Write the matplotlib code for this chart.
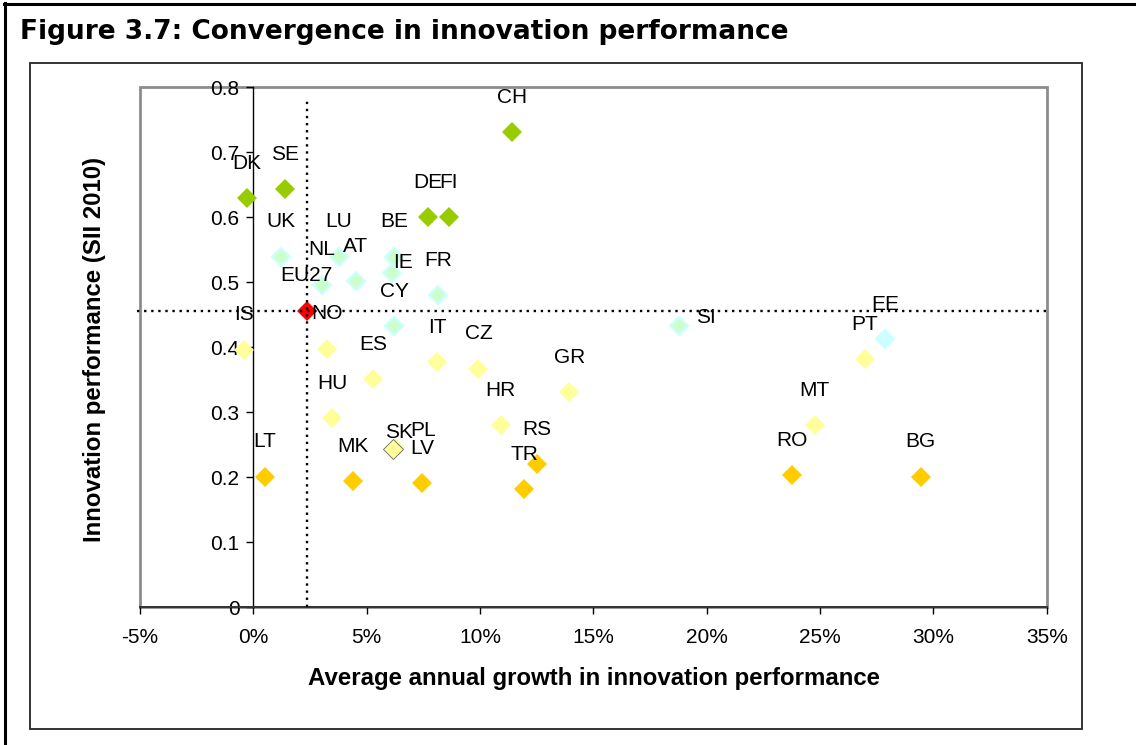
import matplotlib
matplotlib.use("Agg")
import matplotlib.pyplot as plt
from matplotlib.patches import Rectangle
from matplotlib.lines import Line2D

# ---- data ----
countries = ["CH", "DK", "SE", "DE", "FI",
             "UK", "LU", "BE", "IE", "NL", "AT", "FR", "CY", "SI", "EE",
             "EU27",
             "IS", "NO", "ES", "HU", "IT", "CZ", "GR", "HR", "PL", "SK", "PT", "MT",
             "LT", "MK", "LV", "RS", "TR", "RO", "BG"]
groups = ["leader"] * 5 + ["follower"] * 10 + ["eu"] + ["moderate"] * 12 + ["modest"] * 7
growth = [11.43, -0.29, 1.40, 7.69, 8.63,
          1.22, 3.78, 6.21, 6.10, 3.01, 4.52, 8.16, 6.21, 18.79, 27.87,
          2.36,
          -0.39, 3.24, 5.27, 3.49, 8.12, 9.93, 13.94, 10.91, 6.25, 6.18, 26.98, 24.77,
          0.52, 4.38, 7.46, 12.50, 11.94, 23.75, 29.44]
sii = [0.731, 0.629, 0.643, 0.600, 0.600,
       0.539, 0.539, 0.539, 0.515, 0.496, 0.502, 0.480, 0.432, 0.432, 0.412,
       0.456,
       0.396, 0.398, 0.351, 0.291, 0.377, 0.367, 0.331, 0.280, 0.245, 0.244, 0.382, 0.280,
       0.201, 0.194, 0.191, 0.220, 0.182, 0.2035, 0.201]

x_ticks = [-5, 0, 5, 10, 15, 20, 25, 30, 35]
y_ticks = [0, 0.1, 0.2, 0.3, 0.4, 0.5, 0.6, 0.7, 0.8]

# ---- styles ----
GROUP_STYLE = {
    "leader": dict(fc="#99CC00", ec="#99CC00", lw=0.0, ms=10.5),
    "follower": dict(fc="#CCFFCC", ec="#CCFFFF", lw=1.6, ms=9.3),
    "eu": dict(fc="#FF0000", ec="#FF0000", lw=0.0, ms=10.5),
    "moderate": dict(fc="#FFFF99", ec="#FFFF99", lw=0.0, ms=10.5),
    "modest": dict(fc="#FFCC00", ec="#FFCC00", lw=0.0, ms=10.5),
}
SPECIAL_FACE = {"EE": "#CCFFFF"}
SPECIAL_EDGE = {"SK": ("#666666", 0.6)}

PX = 72 / 100.0          # pixels -> points
LABEL_DEFAULT = (0, 35)  # label offset in pixels (right, up)
LABEL_OFFSET = {"IE": (11, 10), "SK": (6, 16), "PL": (28, 18), "SI": (27, 9)}

W, H = 1136, 745
fig = plt.figure(figsize=(W / 100, H / 100), dpi=100)
fig.patch.set_facecolor("white")

# outer and inner frames
fig.add_artist(Line2D([4 / W, 1], [1 - 3.5 / H, 1 - 3.5 / H], color="black", lw=2.2, transform=fig.transFigure))
fig.add_artist(Line2D([4.5 / W, 4.5 / W], [0, 1 - 3 / H], color="black", lw=2.2, transform=fig.transFigure))
fig.add_artist(Rectangle((30 / W, 1 - 729 / H), (1082 - 30) / W, (729 - 63) / H, fill=False,
                         ec="#333333", lw=1.4, transform=fig.transFigure))

fig.text(20 / W, 1 - 39 / H, "Figure 3.7: Convergence in innovation performance",
         fontsize=19, fontweight="bold", family="DejaVu Sans", va="baseline", ha="left")

ax = fig.add_axes([140 / W, 1 - 607.3 / H, 906.7 / W, 520 / H])
ax.set_xlim(-5, 35)
ax.set_ylim(0, 0.8)

# plot-area border
ax.add_patch(Rectangle((0, 0), 1, 1, transform=ax.transAxes, fill=False, ec="#8C8C8C",
                       lw=2.0, clip_on=False, zorder=1))
ax.spines["top"].set_visible(False)
ax.spines["right"].set_visible(False)
ax.spines["left"].set_position(("data", 0))
ax.spines["left"].set_color("black")
ax.spines["left"].set_linewidth(1.0)
ax.spines["bottom"].set_color("#333333")
ax.spines["bottom"].set_linewidth(1.4)

ax.set_xticks(x_ticks)
ax.set_xticklabels([f"{t}%" for t in x_ticks])
ax.set_yticks(y_ticks)
ax.set_yticklabels(["0"] + [f"{t:.1f}" for t in y_ticks[1:]])
ax.tick_params(direction="out", length=5, width=1.0, labelsize=15)
ax.tick_params(axis="x", pad=10)
ax.tick_params(axis="y", pad=5)
for lab in ax.get_xticklabels() + ax.get_yticklabels():
    lab.set_family("Liberation Sans")

for name, grp, gx, gy in zip(countries, groups, growth, sii):
    st = GROUP_STYLE[grp]
    fc = SPECIAL_FACE.get(name, st["fc"])
    ec, lw = SPECIAL_EDGE.get(name, (SPECIAL_FACE.get(name, st["ec"]), st["lw"]))
    ax.plot(gx, gy, marker="D", ms=st["ms"], mfc=fc, mec=ec, mew=lw, ls="none",
            zorder=3, clip_on=False)
    dx, dy = LABEL_OFFSET.get(name, LABEL_DEFAULT)
    ax.annotate(name, (gx, gy), xytext=(dx * PX, dy * PX), textcoords="offset points",
                ha="center", va="center", fontsize=15, family="Liberation Sans",
                zorder=4)

# EU27 reference lines
eu_x = growth[countries.index("EU27")]
eu_y = sii[countries.index("EU27")]
ax.plot([eu_x, eu_x], [0, 0.78], color="black", lw=1.7, ls=(0, (1, 2)), zorder=5)
ax.plot([-5.15, 35], [eu_y, eu_y], color="black", lw=1.7, ls=(0, (1, 2)), zorder=5,
        clip_on=False)

fig.text(594 / W, 1 - 678 / H, "Average annual growth in innovation performance",
         fontsize=17.3, fontweight="bold", family="Liberation Sans", ha="center", va="center")
fig.text(95 / W, 1 - 349 / H, "Innovation performance (SII 2010)", rotation=90,
         fontsize=17.3, fontweight="bold", family="Liberation Sans", ha="center", va="center")

fig.savefig("out.png", dpi=100)
